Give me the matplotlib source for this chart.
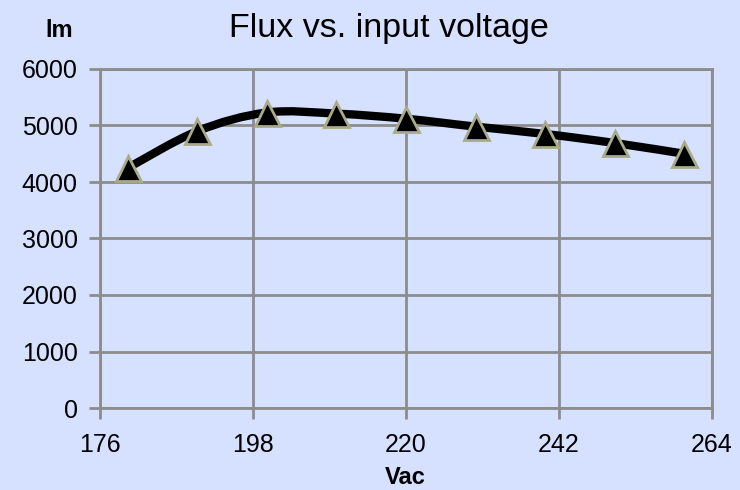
#!/usr/bin/env python

import matplotlib.pyplot as plt
import numpy as np
from matplotlib.path import Path
from matplotlib.patches import PathPatch

# input voltage (Vac) and luminous flux (lm)
voltage = [180, 190, 200, 210, 220, 230, 240, 250, 260]
flux = [4250, 4900, 5230, 5210, 5120, 4980, 4850, 4690, 4500]

x_ticks = [176, 198, 220, 242, 264]
y_ticks = [0, 1000, 2000, 3000, 4000, 5000, 6000]

bg = "#d6e0ff"
grid_col = "#8c8c8c"

plt.rcParams["font.family"] = ["Liberation Sans", "DejaVu Sans"]

fig = plt.figure(figsize=(7.4, 4.9), dpi=100, facecolor=bg)
ax = fig.add_axes([100 / 740, 1 - 408 / 490, 612 / 740, 339 / 490])
ax.set_facecolor(bg)

ax.set_xlim(176, 264)
ax.set_ylim(0, 6000)
ax.set_xticks(x_ticks)
ax.set_yticks(y_ticks)
ax.grid(True, color=grid_col, linewidth=2)
ax.set_axisbelow(True)
for s in ax.spines.values():
    s.set_color(grid_col)
    s.set_linewidth(2)
ax.tick_params(axis="both", colors=grid_col, width=2, length=8,
               labelcolor="black", labelsize=18)
ax.tick_params(axis="x", pad=10)
ax.tick_params(axis="y", pad=8)

# smoothed line (Excel-style bezier through the points)
x = np.array(voltage, dtype=float)
y = np.array(flux, dtype=float)
verts = [(x[0], y[0])]
codes = [Path.MOVETO]
n = len(x)
for i in range(n - 1):
    p0 = (x[max(i - 1, 0)], y[max(i - 1, 0)])
    p1 = (x[i], y[i])
    p2 = (x[i + 1], y[i + 1])
    p3 = (x[min(i + 2, n - 1)], y[min(i + 2, n - 1)])
    c1 = (p1[0] + (p2[0] - p0[0]) / 6, p1[1] + (p2[1] - p0[1]) / 6)
    c2 = (p2[0] - (p3[0] - p1[0]) / 6, p2[1] - (p3[1] - p1[1]) / 6)
    verts += [c1, c2, p2]
    codes += [Path.CURVE4] * 3
ax.add_patch(PathPatch(Path(verts, codes), facecolor="none",
                       edgecolor="black", linewidth=6, zorder=3,
                       capstyle="round", joinstyle="round"))

ax.plot(voltage, flux, linestyle="none", marker="^", markersize=18,
        markerfacecolor="black", markeredgecolor="#a9ab88",
        markeredgewidth=2, zorder=4, clip_on=False)

fig.text(389 / 740, 1 - 37 / 490, "Flux vs. input voltage", fontsize=24.5,
         ha="center", va="baseline")
fig.text(59 / 740, 1 - 37 / 490, "lm", fontsize=17, ha="center",
         va="baseline", fontweight="bold")
fig.text(405 / 740, 1 - 484 / 490, "Vac", fontsize=17, ha="center",
         va="baseline", fontweight="bold")

fig.savefig("out.png", dpi=100, facecolor=bg)
